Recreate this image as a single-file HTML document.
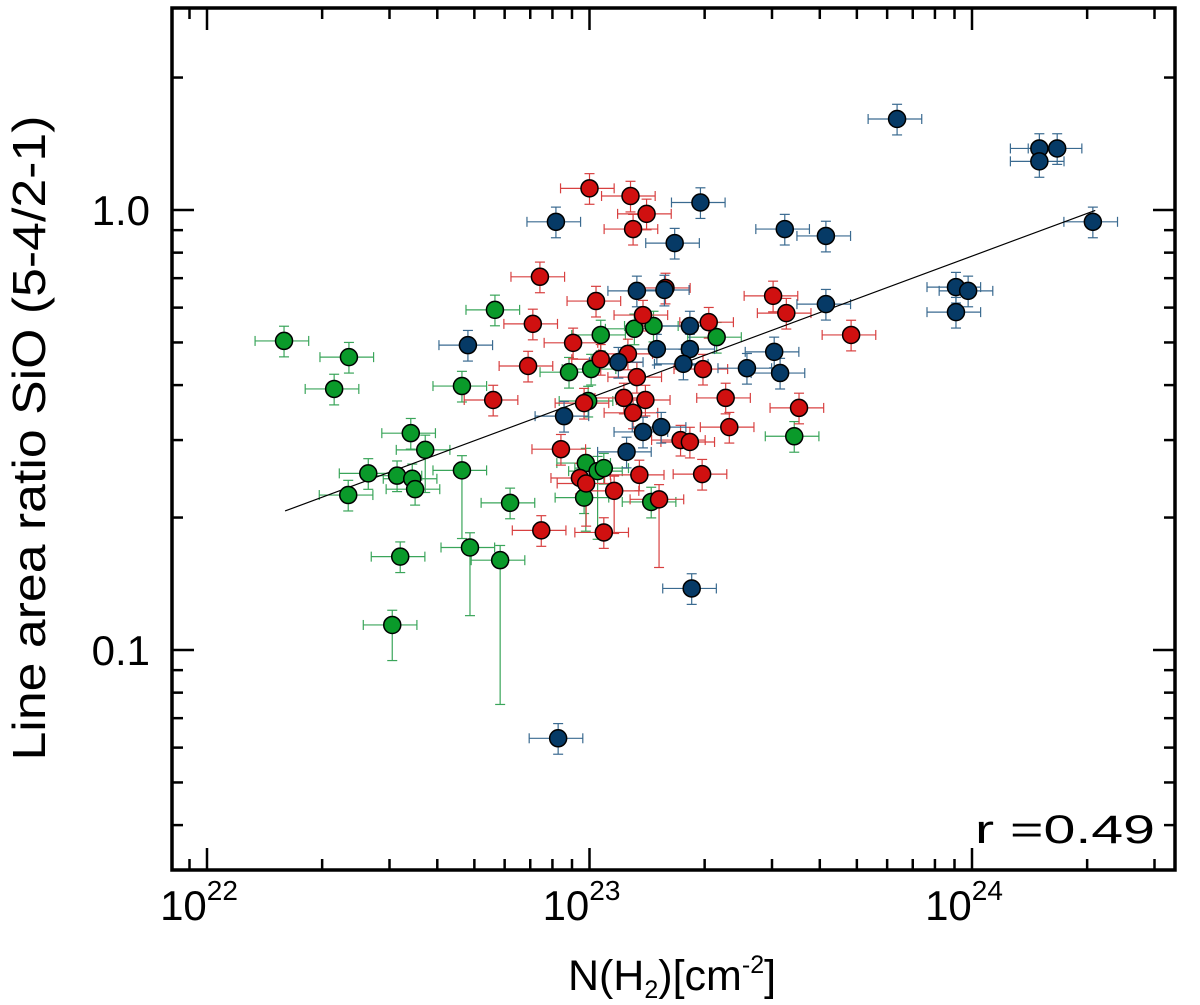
<!DOCTYPE html>
<html><head><meta charset="utf-8">
<style>
html,body{margin:0;padding:0;background:#fff;}
svg{display:block;font-family:"Liberation Sans",Arial,sans-serif;}
</style></head>
<body>
<svg id="chart" width="1200" height="1005" viewBox="0 0 1200 1005" xmlns="http://www.w3.org/2000/svg">
<g id="err"></g>
<g id="fit"></g>
<g id="pts"></g>
<g id="axes"></g>
<text x="0" y="0" transform="translate(45,438) rotate(-90)" text-anchor="middle" font-size="46" textLength="645" lengthAdjust="spacingAndGlyphs">Line area ratio SiO (5-4/2-1)</text>
<text x="672" y="990" text-anchor="middle" font-size="43">N(H<tspan font-size="25" dy="8">2</tspan><tspan dy="-8">)[cm</tspan><tspan font-size="25" dy="-17">-2</tspan><tspan dy="17">]</tspan></text>
<text x="975" y="843" font-size="40" textLength="180" lengthAdjust="spacingAndGlyphs">r  =0.49</text>
</svg>
<script>
const blueX=[6.37e23,1.50e24,1.50e24,1.67e24,2.07e24,8.17e22,1.95e23,3.24e23,4.15e23,1.67e23,1.57e23,1.33e23,9.08e23,9.77e23,9.08e23,4.15e23,1.83e23,4.81e22,1.50e23,1.83e23,1.19e23,1.76e23,3.04e23,2.58e23,3.15e23,8.58e22,1.38e23,1.54e23,1.25e23,1.85e23,8.28e22];
const blueY=[1.61,1.38,1.29,1.38,0.94,0.94,1.04,0.905,0.873,0.841,0.658,0.655,0.668,0.655,0.586,0.611,0.545,0.493,0.483,0.483,0.451,0.447,0.476,0.437,0.426,0.340,0.313,0.321,0.282,0.138,0.063];
const redX=[1.0e23,1.28e23,1.41e23,1.30e23,7.42e22,1.58e23,1.04e23,3.02e23,3.27e23,1.38e23,7.11e22,2.05e23,4.83e23,9.06e22,6.91e22,1.07e23,1.26e23,1.98e23,1.33e23,9.68e22,5.60e22,2.27e23,1.23e23,1.30e23,1.40e23,3.53e23,2.32e23,8.42e22,1.73e23,1.83e23,1.35e23,1.97e23,9.44e22,9.8e22,1.16e23,1.52e23,7.48e22,1.09e23];
const redY=[1.12,1.076,0.98,0.905,0.705,0.665,0.621,0.638,0.583,0.577,0.551,0.556,0.520,0.499,0.442,0.458,0.471,0.435,0.417,0.364,0.370,0.374,0.374,0.346,0.370,0.355,0.321,0.286,0.300,0.297,0.250,0.251,0.246,0.239,0.230,0.220,0.187,0.185];
const greenX=[1.59e22,2.35e22,2.15e22,5.66e22,1.07e23,1.31e23,1.47e23,2.15e23,8.84e22,1.01e23,4.64e22,9.92e22,3.41e22,3.72e22,3.43e23,3.14e22,4.64e22,3.44e22,2.64e22,3.50e22,9.78e22,1.05e23,1.09e23,9.68e22,1.45e23,2.34e22,6.20e22,3.2e22,4.87e22,5.84e22,3.05e22];
const greenY=[0.504,0.463,0.392,0.593,0.520,0.537,0.545,0.514,0.428,0.435,0.398,0.368,0.311,0.285,0.306,0.249,0.256,0.245,0.252,0.232,0.266,0.255,0.259,0.222,0.217,0.225,0.216,0.163,0.171,0.160,0.114];
const greenYLo={29:0.53,28:0.3,16:0.3,20:0.3,21:0.3,30:0.17,13:0.2};
const redYLo={35:0.3,34:0.2,33:0.2};
const xErrFrac=0.16;
const yErrFrac=0.08;
const fitX=[1.6e22,2.1e24];
const fitY=[0.207,0.998];
const xTickVals=[1e22,1e23,1e24];
const xTickLabels=["22","23","24"];
const yTickVals=[0.1,1.0];
const yTickLabels=["0.1","1.0"];

const L=172,R=1175,T=8,B=870;
const X0=207,DX=382.5,Y1=210,DY=440;
const sx=v=>X0+(Math.log10(v)-22)*DX;
const sy=v=>Y1-Math.log10(v)*DY;
const NS="http://www.w3.org/2000/svg";
function mk(tag,attrs,parent){const e=document.createElementNS(NS,tag);for(const k in attrs)e.setAttribute(k,attrs[k]);parent.appendChild(e);return e;}
const gErr=document.getElementById('err'),gPts=document.getElementById('pts'),gAx=document.getElementById('axes'),gFit=document.getElementById('fit');

function series(xs,ys,fill,ecol,name,lo){
  xs.forEach((x,i)=>{
    const cx=sx(x),cy=sy(ys[i]);
    const x1=sx(x*(1-xErrFrac)),x2=sx(x*(1+xErrFrac));
    const loF=(lo&&lo[i])?lo[i]:yErrFrac;
    const y1=sy(ys[i]*(1-loF)),y2=sy(ys[i]*(1+yErrFrac));
    const g=mk('g',{},gErr);
    
    
    const st={stroke:ecol,'stroke-width':1.2};
    mk('line',Object.assign({x1:x1,x2:x2,y1:cy,y2:cy},st),g);
    mk('line',Object.assign({x1:x1,x2:x1,y1:cy-5,y2:cy+5},st),g);
    mk('line',Object.assign({x1:x2,x2:x2,y1:cy-5,y2:cy+5},st),g);
    mk('line',Object.assign({x1:cx,x2:cx,y1:y1,y2:y2},st),g);
    mk('line',Object.assign({x1:cx-5,x2:cx+5,y1:y1,y2:y1},st),g);
    mk('line',Object.assign({x1:cx-5,x2:cx+5,y1:y2,y2:y2},st),g);
    const c=mk('circle',{cx:cx,cy:cy,r:8.5,fill:fill,stroke:'#000','stroke-width':1.5},gPts);
    
    
  });
}
series(greenX,greenY,'#0a9a2a','#3aa55a','green',greenYLo);
series(redX,redY,'#d01010','#d84040','red',redYLo);
series(blueX,blueY,'#063a66','#3a6a90','blue',null);

const fl=mk('line',{x1:sx(fitX[0]),y1:sy(fitY[0]),x2:sx(fitX[1]),y2:sy(fitY[1]),stroke:'#000','stroke-width':1.2},gFit);



const frame=mk('rect',{x:L,y:T,width:R-L,height:B-T,fill:'none',stroke:'#000','stroke-width':3.5},gAx);


for(let d=21;d<=24;d++){for(let m=1;m<10;m++){const v=m*Math.pow(10,d);const px=sx(v);if(px<L||px>R)continue;const len=m===1?22:11;
  mk('line',{x1:px,x2:px,y1:B,y2:B-len,stroke:'#000','stroke-width':2.5},gAx);
  mk('line',{x1:px,x2:px,y1:T,y2:T+len,stroke:'#000','stroke-width':2.5},gAx);}}
for(let d=-2;d<=0;d++){for(let m=1;m<10;m++){const v=m*Math.pow(10,d);const py=sy(v);if(py<T||py>B)continue;const len=m===1?22:11;
  mk('line',{x1:L,x2:L+len,y1:py,y2:py,stroke:'#000','stroke-width':2.5},gAx);
  mk('line',{x1:R,x2:R-len,y1:py,y2:py,stroke:'#000','stroke-width':2.5},gAx);}}
xTickVals.forEach((v,i)=>{const t=mk('text',{x:sx(v)-8,y:920,'text-anchor':'middle','font-size':42},gAx);
  
  
  t.textContent='10';const ts=mk('tspan',{dy:-20,'font-size':28},t);ts.textContent=xTickLabels[i];});
yTickVals.forEach((v,i)=>{const t=mk('text',{x:150,y:sy(v)+15,'text-anchor':'end','font-size':42},gAx);
  
  
  t.textContent=yTickLabels[i];});
</script>
</body></html>
